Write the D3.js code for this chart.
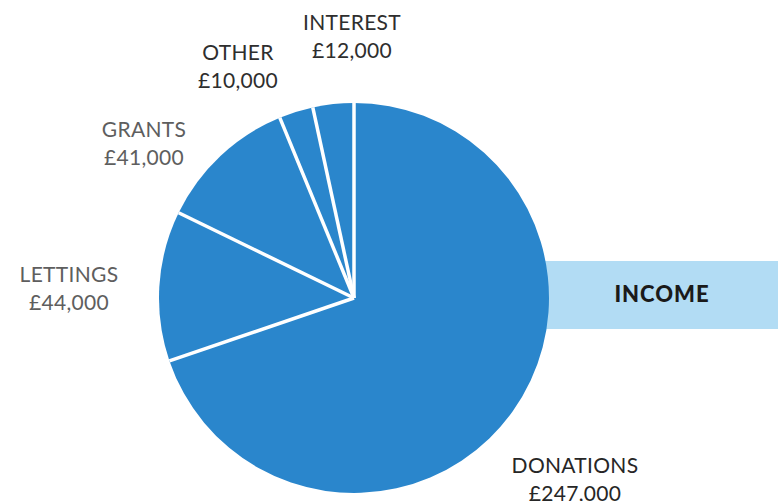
<!DOCTYPE html>
<html>
<head>
<meta charset="utf-8">
<script src="https://cdn.jsdelivr.net/npm/d3@7"></script>
<style>
  html, body { margin: 0; padding: 0; background: #fff; }
  svg { display: block; }
</style>
</head>
<body>
<svg id="chart" width="778" height="501"></svg>
<script>
const categories = ["DONATIONS", "LETTINGS", "GRANTS", "OTHER", "INTEREST"];
const values = [247000, 44000, 41000, 10000, 12000];
const valueLabels = ["£247,000", "£44,000", "£41,000", "£10,000", "£12,000"];
const title = "INCOME";

const svg = d3.select("#chart");
const W = 778, H = 501;
const cx = 354, cy = 298, r = 195;
const font = "Lato, 'Open Sans', sans-serif";

// Banner behind the pie
svg.append("rect")
  .attr("x", cx).attr("y", 261)
  .attr("width", W - cx).attr("height", 68)
  .attr("fill", "#b2dcf4");
svg.append("text")
  .attr("x", 662).attr("y", 302)
  .attr("text-anchor", "middle")
  .attr("font-family", font)
  .attr("font-weight", 900)
  .attr("font-size", 22)
  .attr("letter-spacing", 1)
  .attr("fill", "#1a1a1a")
  .text(title);

const data = categories.map((c, i) => ({ name: c, value: values[i], label: valueLabels[i] }));
const pie = d3.pie().sort(null).value(d => d.value);
const arcs = pie(data);
const arc = d3.arc().innerRadius(0).outerRadius(r);

svg.selectAll("path.slice").data(arcs).enter().append("path")
  .attr("class", "slice")
  .attr("transform", `translate(${cx},${cy})`)
  .attr("d", arc)
  .attr("fill", "#2a86cc");

// slice separators
svg.selectAll("line.sep").data(arcs).enter().append("line")
  .attr("class", "sep")
  .attr("x1", cx).attr("y1", cy)
  .attr("x2", d => cx + r * Math.sin(d.startAngle))
  .attr("y2", d => cy - r * Math.cos(d.startAngle))
  .attr("stroke", "#fff").attr("stroke-width", 3.5);

// labels
const labelPos = {
  "DONATIONS": { x: 575, y: 473, fill: "#262626" },
  "LETTINGS": { x: 69, y: 282, fill: "#5e5e5e" },
  "GRANTS":   { x: 144, y: 137, fill: "#5e5e5e" },
  "OTHER":    { x: 238, y: 60, fill: "#2e2e2e" },
  "INTEREST": { x: 352, y: 30, fill: "#2e2e2e" }
};
const lbl = svg.selectAll("g.lbl").data(data).enter().append("g").attr("class", "lbl");
lbl.append("text")
  .attr("x", d => labelPos[d.name].x).attr("y", d => labelPos[d.name].y)
  .attr("text-anchor", "middle")
  .attr("font-family", font)
  .attr("font-size", 21)
  .attr("letter-spacing", 0.3)
  .attr("fill", d => labelPos[d.name].fill)
  .text(d => d.name);
lbl.append("text")
  .attr("x", d => labelPos[d.name].x).attr("y", d => labelPos[d.name].y + 28)
  .attr("text-anchor", "middle")
  .attr("font-family", font)
  .attr("font-size", 21)
  .attr("letter-spacing", 0.3)
  .attr("fill", d => labelPos[d.name].fill)
  .text(d => d.label);
</script>
</body>
</html>
